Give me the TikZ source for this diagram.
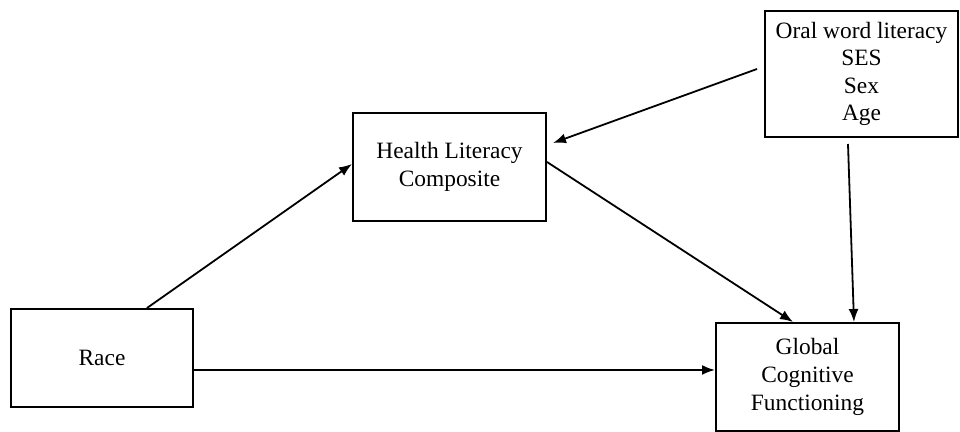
\documentclass[tikz,border=0pt]{standalone}
\usepackage{fontspec}
\setmainfont{Liberation Serif}
\usetikzlibrary{arrows.meta}
\tikzstyle{varbox} = [
    rectangle,
    align=center,
    line width=1pt,
    draw=black,
    font=\fontsize{11.7}{13.8}\selectfont
]
\tikzstyle{arrow} = [line width=0.9pt,-{Latex[length=6.5pt,width=5pt]}]

\begin{document}
\begin{tikzpicture}[x=0.5pt, y=-0.5pt]
\useasboundingbox (0,0) rectangle (960,432);

\node (race) [varbox, minimum width=91pt, minimum height=49pt] at (102,358) {Race};
\node (hlc) [varbox, minimum width=96.5pt, minimum height=54pt] at (449.5,167)
{Health Literacy\\Composite};
\node (cov) [varbox, minimum width=96.5pt, minimum height=63pt] at (861.5,74)
{Oral word literacy\\SES\\Sex\\Age};
\node (gcf) [varbox, minimum width=91.5pt, minimum height=54pt] at (807.5,377)
{Global\\Cognitive\\Functioning};

\draw [arrow] ([xshift=22.5pt]race.north) -- ([yshift=1.5pt]hlc.west);
\draw [arrow] ([yshift=-6pt]race.east) -- ([yshift=-6pt]race.east -| gcf.west);
\draw [arrow] ([yshift=2.5pt]hlc.east) -- ([xshift=-7.25pt]gcf.north);
\draw [arrow] ([xshift=-3.5pt,yshift=2.5pt]cov.west) -- ([xshift=3pt,yshift=12pt]hlc.east);
\draw [arrow] ([xshift=-6.75pt,yshift=-3pt]cov.south) -- ([xshift=23.25pt]gcf.north);

\end{tikzpicture}
\end{document}
